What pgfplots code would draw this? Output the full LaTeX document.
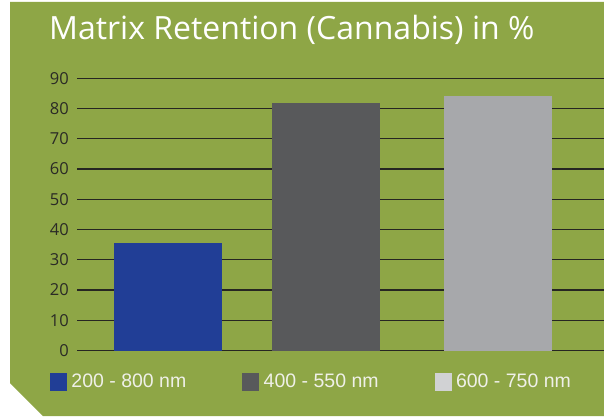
\documentclass[border=0pt]{standalone}
\usepackage{pgfplots}
\pgfplotsset{compat=1.18}
\usepackage{fontspec}
\setmainfont{Open Sans}
\newfontfamily\titlefont{Open Sans}
\newfontfamily\legfont{Liberation Sans}
\newfontfamily\tickfont{Open Sans}
\definecolor{bg}{HTML}{8EA646}
\definecolor{gridc}{HTML}{262622}
\definecolor{ticktext}{HTML}{2A2A26}
\definecolor{legtext}{HTML}{EFF0E8}
\definecolor{barA}{HTML}{213E96}
\definecolor{barB}{HTML}{58595B}
\definecolor{barC}{HTML}{A7A8AB}
\definecolor{legC}{HTML}{D1D2D4}
\begin{document}
\begin{tikzpicture}[x=1pt,y=1pt]
\useasboundingbox (0,0) rectangle (604,416);
\fill[white] (0,0) rectangle (604,416);
\fill[bg] (10,414) -- (604,414) -- (604,0) -- (43,0) -- (10,33) -- cycle;
\node[anchor=base west, inner sep=0pt, text=white, font=\titlefont\fontsize{32}{38}\selectfont] at (49,376.7) {Matrix Retention (Cannabis) in \%};
\begin{axis}[
  at={(77pt,65.4pt)}, anchor=south west,
  scale only axis, width=527pt, height=272.3pt,
  xmin=77, xmax=604, ymin=0, ymax=90,
  axis line style={draw=none},
  ytick={0,10,...,90}, xtick=\empty,
  major tick length=0pt,
  ymajorgrids, grid style={line width=1.2pt, color=gridc},
  /pgf/number format/assume math mode=true,
  yticklabel style={font=\tickfont\fontsize{16.5}{18}\selectfont, text=ticktext, inner sep=0pt, anchor=east, xshift=-8pt},
  ybar, bar width=108, bar shift=0pt,
  clip=false,
  legend columns=3,
  legend style={draw=none, fill=none, inner sep=0pt, outer sep=0pt,
    at={(-0.0512,-0.1135)}, anchor=west,
    font=\legfont\fontsize{19.5}{22}\selectfont, text=legtext,
    nodes={inner sep=0pt},
    /tikz/every odd column/.append style={column sep=5pt},
    /tikz/every even column/.append style={column sep=56pt}},
]
\addplot[fill=barA, draw=none, forget plot] coordinates {(168,35.6)};
\addplot[fill=barB, draw=none, forget plot] coordinates {(326,81.8)};
\addplot[fill=barC, draw=none, forget plot] coordinates {(498,84.2)};
\addlegendimage{legend image code/.code={\fill[barA] (0pt,-8.5pt) rectangle (16pt,8.5pt);}}
\addlegendentry{200 - 800 nm}
\addlegendimage{legend image code/.code={\fill[barB] (0pt,-8.5pt) rectangle (16pt,8.5pt);}}
\addlegendentry{400 - 550 nm}
\addlegendimage{legend image code/.code={\fill[legC] (0pt,-8.5pt) rectangle (16pt,8.5pt);}}
\addlegendentry{600 - 750 nm}
\end{axis}
\end{tikzpicture}
\end{document}
